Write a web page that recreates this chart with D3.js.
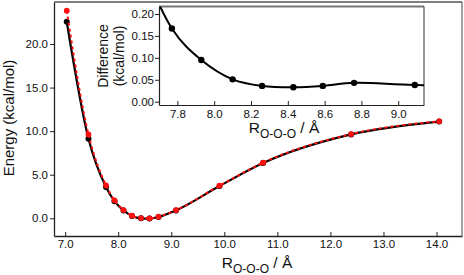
<!DOCTYPE html>
<html>
<head>
<meta charset="utf-8">
<script src="https://cdn.jsdelivr.net/npm/d3@7"></script>
<style>
  body { margin: 0; background: #fff; }
  svg { display: block; font-family: "Liberation Sans", Arial, sans-serif; }
  .tick text { fill: #111; }
</style>
</head>
<body>
<div id="chart"></div>
<script>
// main chart data: O-O-O distance vs energy
const rValues = [7.03, 7.44, 7.77, 7.93, 8.10, 8.26, 8.43, 8.59, 8.76, 9.09, 9.91, 10.73, 12.39, 14.05]
const blackEnergy = [22.56, 9.13, 3.60, 1.97, 0.90, 0.27, 0.0, -0.03, 0.15, 0.91, 3.70, 6.34, 9.63, 11.10]
const redEnergy = [23.82, 9.62, 3.78, 2.06, 0.95, 0.30, 0.03, 0.00, 0.19, 0.95, 3.74, 6.38, 9.67, 11.13]
const mainXTicks = [7, 8, 9, 10, 11, 12, 13, 14]
const mainYTicks = [0, 5, 10, 15, 20]

// inset data: difference
const diffR = [7.44, 7.77, 7.93, 8.10, 8.26, 8.43, 8.59, 8.76, 9.09, 9.91]
const diffValues = [0.49, 0.167, 0.095, 0.051, 0.036, 0.033, 0.036, 0.043, 0.038, 0.035]
const insetXTicks = [7.8, 8.0, 8.2, 8.4, 8.6, 8.8, 9.0]
const insetYTicks = [0, 0.05, 0.10, 0.15, 0.20]

const width = 464
const height = 275

const svg = d3.select('#chart')
  .append('svg')
  .attr('width', width)
  .attr('height', height)

// ---- main plot ----
const x = d3.scaleLinear().domain([6.79, 14.48]).range([54, 462])
const y = d3.scaleLinear().domain([-2.03, 24.82]).range([236, 2])

svg.append('defs').append('clipPath').attr('id', 'mainClip')
  .append('rect').attr('x', 54).attr('y', 2).attr('width', 408).attr('height', 234)

const xAxis = d3.axisBottom(x).tickValues(mainXTicks).tickFormat(d3.format('.1f'))
  .tickSizeInner(-4).tickSizeOuter(0).tickPadding(4)
const yAxis = d3.axisLeft(y).tickValues(mainYTicks).tickFormat(d3.format('.1f'))
  .tickSizeInner(4).tickSizeOuter(0).tickPadding(2)

const xAxisG = svg.append('g').attr('transform', 'translate(0,236)').call(xAxis)
const yAxisG = svg.append('g').attr('transform', 'translate(54,0)').call(yAxis)
;[xAxisG, yAxisG].forEach(g => {
  g.selectAll('text').attr('font-size', 11.5).attr('font-family', '"Liberation Sans", Arial, sans-serif')
  g.select('.domain').attr('stroke', '#222').attr('stroke-width', 1.3)
  g.selectAll('.tick line').attr('stroke', '#222')
})

// frame top/right
svg.append('line').attr('x1', 54).attr('x2', 462).attr('y1', 2).attr('y2', 2)
  .attr('stroke', '#555').attr('stroke-width', 1.5)
svg.append('line').attr('x1', 462).attr('x2', 462).attr('y1', 2).attr('y2', 236)
  .attr('stroke', '#444').attr('stroke-width', 1)

const blackPts = rValues.map((r, i) => ({ r: r, e: blackEnergy[i] }))
const redPts = rValues.map((r, i) => ({ r: r, e: redEnergy[i] }))

const line = d3.line().x(d => x(d.r)).y(d => y(d.e)).curve(d3.curveMonotoneX)

const plot = svg.append('g').attr('clip-path', 'url(#mainClip)')

plot.append('path').datum(blackPts)
  .attr('d', line).attr('fill', 'none').attr('stroke', '#000').attr('stroke-width', 2.2)
plot.selectAll('.bdot').data(blackPts).join('circle')
  .attr('class', 'bdot')
  .attr('cx', d => x(d.r)).attr('cy', d => y(d.e)).attr('r', 3).attr('fill', '#000')
plot.append('path').datum(redPts)
  .attr('d', line).attr('fill', 'none').attr('stroke', '#ff1010')
  .attr('stroke-width', 2).attr('stroke-dasharray', '3,3')
plot.selectAll('.rdot').data(redPts).join('circle')
  .attr('class', 'rdot')
  .attr('cx', d => x(d.r)).attr('cy', d => y(d.e)).attr('r', 2.9).attr('fill', '#ff1010')

// axis titles
svg.append('text')
  .attr('transform', 'translate(14,118) rotate(-90)')
  .attr('text-anchor', 'middle').attr('font-size', 15).attr('fill', '#111')
  .text('Energy (kcal/mol)')

function rLabel(g, cx, baseline) {
  const t = g.append('text').attr('x', cx).attr('y', baseline)
    .attr('text-anchor', 'middle').attr('fill', '#111').attr('font-size', 15.5)
  t.append('tspan').text('R')
  t.append('tspan').attr('font-size', 12).attr('dy', 5).text('O-O-O')
  t.append('tspan').attr('dy', -5).text(' / Å')
}
rLabel(svg, 257, 268)

// ---- inset ----
const ix = d3.scaleLinear().domain([7.7, 9.14]).range([159, 424])
const iy = d3.scaleLinear().domain([-0.0075, 0.217]).range([105, 6.5])

svg.append('rect').attr('x', 159).attr('y', 6.5).attr('width', 265).attr('height', 98.5).attr('fill', '#fff')
svg.select('defs').append('clipPath').attr('id', 'insetClip')
  .append('rect').attr('x', 159).attr('y', 6.5).attr('width', 265).attr('height', 98.5)

const ixAxis = d3.axisBottom(ix).tickValues(insetXTicks).tickFormat(d3.format('.1f'))
  .tickSizeInner(-4).tickSizeOuter(0).tickPadding(5)
const iyAxis = d3.axisLeft(iy).tickValues(insetYTicks).tickFormat(d3.format('.2f'))
  .tickSizeInner(4).tickSizeOuter(0).tickPadding(1)

const ixG = svg.append('g').attr('transform', 'translate(0,105)').call(ixAxis)
const iyG = svg.append('g').attr('transform', 'translate(159,0)').call(iyAxis)
;[ixG, iyG].forEach(g => {
  g.selectAll('text').attr('font-size', 11.5).attr('font-family', '"Liberation Sans", Arial, sans-serif')
  g.select('.domain').attr('stroke', '#222').attr('stroke-width', 1.2)
  g.selectAll('.tick line').attr('stroke', '#222')
})
svg.append('line').attr('x1', 159).attr('x2', 424).attr('y1', 6.5).attr('y2', 6.5)
  .attr('stroke', '#777').attr('stroke-width', 2)
svg.append('line').attr('x1', 424).attr('x2', 424).attr('y1', 6.5).attr('y2', 105)
  .attr('stroke', '#333').attr('stroke-width', 1)

const diffPts = diffR.map((r, i) => ({ r: r, d: diffValues[i] }))
const iline = d3.line().x(d => ix(d.r)).y(d => iy(d.d)).curve(d3.curveCatmullRom)
const inset = svg.append('g').attr('clip-path', 'url(#insetClip)')
inset.append('path').datum(diffPts)
  .attr('d', iline).attr('fill', 'none').attr('stroke', '#000').attr('stroke-width', 2)
inset.selectAll('circle').data(diffPts.filter(d => d.r >= 7.7 && d.r <= 9.14)).join('circle')
  .attr('cx', d => ix(d.r)).attr('cy', d => iy(d.d)).attr('r', 3.2).attr('fill', '#000')

const dl = svg.append('text')
  .attr('transform', 'translate(108,56) rotate(-90)')
  .attr('text-anchor', 'middle').attr('font-size', 14).attr('fill', '#111')
dl.append('tspan').attr('x', 0).attr('y', 0).text('Difference')
dl.append('tspan').attr('x', 0).attr('y', 16).text('(kcal/mol)')

rLabel(svg, 284, 133)
</script>
</body>
</html>
